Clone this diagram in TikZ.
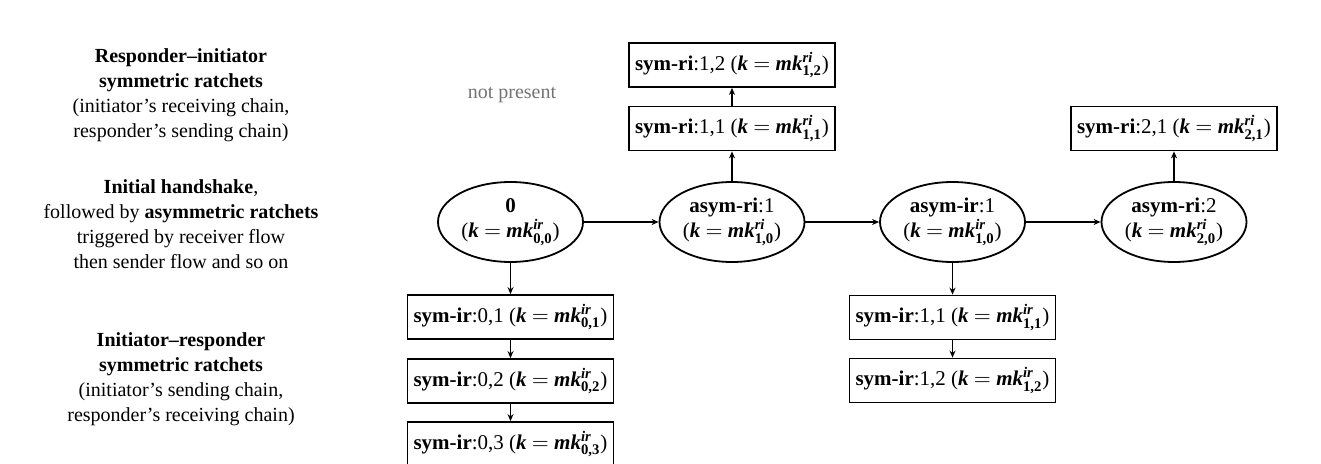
\documentclass[tikz,border=0pt]{standalone}
\usepackage{amsmath}
\usepackage{fontspec}
\setmainfont{Liberation Serif}
\usetikzlibrary{shapes.geometric,arrows.meta}
\tikzset{
  chainbox/.style={draw, line width=0.9pt, minimum width=103pt, minimum height=22pt, inner sep=2pt, font=\fontsize{10.5}{12.5}\selectfont},
  statenode/.style={draw, ellipse, line width=0.9pt, minimum width=72.5pt, minimum height=40pt, inner sep=0pt, align=center, font=\fontsize{10.5}{12.5}\selectfont},
  sidetext/.style={align=center, font=\fontsize{10}{12.5}\selectfont},
  flow/.style={line width=0.7pt, -{Stealth[length=3.5pt,width=3pt]}}
}
\newcommand{\bi}[1]{\textbf{\textit{#1}}}
\newcommand{\kk}[2]{(\bi{k} $=$ \bi{mk}$^{\text{\bi{#1}}}_{\text{\textbf{#2}}}$)}
\begin{document}
\begin{tikzpicture}[x=0.5pt,y=-0.5pt]
\useasboundingbox (0,0) rectangle (1321,464);
% left texts
\node[sidetext] (t1) at (181,95) {\textbf{Responder–initiator}\\\textbf{symmetric ratchets}\\(initiator’s receiving chain,\\responder’s sending chain)};
\node[sidetext] (t2) at (181,224) {\textbf{Initial handshake},\\followed by \textbf{asymmetric ratchets}\\triggered by receiver flow\\then sender flow and so on};
\node[sidetext] (t3) at (181,379) {\textbf{Initiator–responder}\\\textbf{symmetric ratchets}\\(initiator’s sending chain,\\responder’s receiving chain)};
\node[sidetext, text=black!55] (np) at (512,95) {not present};
% states
\node[statenode] (s0) at (510.5,222) {\textbf{0}\\\kk{ir}{0,0}};
\node[statenode] (s1) at (732,222) {\textbf{asym-ri}:1\\\kk{ri}{1,0}};
\node[statenode] (s2) at (952.5,222) {\textbf{asym-ir}:1\\\kk{ir}{1,0}};
\node[statenode] (s3) at (1174,222) {\textbf{asym-ri}:2\\\kk{ri}{2,0}};
% sym-ri boxes
\node[chainbox] (r11) at (732,128.5) {\textbf{sym-ri}:1,1 \kk{ri}{1,1}};
\node[chainbox] (r12) at (732,65) {\textbf{sym-ri}:1,2 \kk{ri}{1,2}};
\node[chainbox] (r21) at (1174,128.5) {\textbf{sym-ri}:2,1 \kk{ri}{2,1}};
% sym-ir boxes
\node[chainbox] (i01) at (510.5,317) {\textbf{sym-ir}:0,1 \kk{ir}{0,1}};
\node[chainbox] (i02) at (510.5,381) {\textbf{sym-ir}:0,2 \kk{ir}{0,2}};
\node[chainbox] (i03) at (510.5,444) {\textbf{sym-ir}:0,3 \kk{ir}{0,3}};
\node[chainbox] (i11) at (952.5,317.5) {\textbf{sym-ir}:1,1 \kk{ir}{1,1}};
\node[chainbox] (i12) at (952.5,380.5) {\textbf{sym-ir}:1,2 \kk{ir}{1,2}};
% connectors
\draw[flow] (s0) -- (s1);
\draw[flow] (s1) -- (s2);
\draw[flow] (s2) -- (s3);
\draw[flow] (s0) -- (i01);
\draw[flow] (i01) -- (i02);
\draw[flow] (i02) -- (i03);
\draw[flow] (s1) -- (r11);
\draw[flow] (r11) -- (r12);
\draw[flow] (s2) -- (i11);
\draw[flow] (i11) -- (i12);
\draw[flow] (s3) -- (r21);
\end{tikzpicture}
\end{document}
